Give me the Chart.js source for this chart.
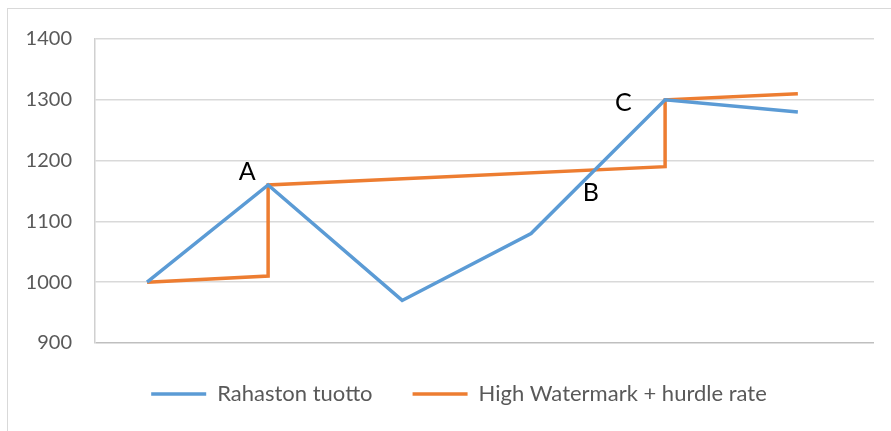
<!DOCTYPE html>
<html>
<head>
<meta charset="utf-8">
<script src="https://cdn.jsdelivr.net/npm/chart.js@4"></script>
<style>
  html, body { margin: 0; padding: 0; background: #fff; }
  #wrap { position: relative; width: 891px; height: 431px; }
  #frame { position: absolute; left: 7px; top: 8px; right: 0; bottom: 0;
           border-top: 1px solid #D9D9D9; border-left: 1px solid #D9D9D9; }
  #chart { position: absolute; left: 0; top: 0; }
</style>
</head>
<body>
<div id="wrap">
  <div id="frame"></div>
  <canvas id="chart" width="891" height="431"></canvas>
</div>
<script>
// Rahaston tuotto (x = aikapiste, y = arvo)
const fundX = [1, 1.93, 2.96, 3.95, 4.98, 6];
const fundY = [1000, 1160, 970, 1080, 1300, 1280];

// High Watermark + hurdle rate (pystysuorat hypyt A:ssa ja C:ssä)
const hwmX = [1, 1.93, 1.93, 4.98, 4.98, 6];
const hwmY = [1000, 1010, 1160, 1190, 1300, 1310];

const seriesNames = ['Rahaston tuotto', 'High Watermark + hurdle rate'];
const yTicks = [900, 1000, 1100, 1200, 1300, 1400];

// Merkinnät A, B, C datakoordinaateissa
const noteText = ['A', 'B', 'C'];
const noteX = [1.77, 4.41, 4.66];
const noteY = [1181, 1147, 1295];

const FONT = 'Lato, "Open Sans", sans-serif';

function toPoints(xs, ys) {
  return xs.map((x, i) => ({ x: x, y: ys[i] }));
}

// Piirtää kirjaimet A, B, C kaavioon
const notesPlugin = {
  id: 'notes',
  afterLayout(chart) {
    // selite hieman oikealle, kuten alkuperäisessä
    chart.legend.left += 22;
    chart.legend.right += 22;
  },
  afterDatasetsDraw(chart) {
    const ctx = chart.ctx;
    const xs = chart.scales.x, ys = chart.scales.y;
    ctx.save();
    ctx.fillStyle = '#000';
    ctx.font = '25px ' + FONT;
    ctx.textAlign = 'center';
    ctx.textBaseline = 'middle';
    noteText.forEach((t, i) => {
      ctx.fillText(t, xs.getPixelForValue(noteX[i]), ys.getPixelForValue(noteY[i]));
    });
    ctx.restore();
  }
};

new Chart(document.getElementById('chart'), {
  type: 'line',
  data: {
    datasets: [
      {
        label: seriesNames[0],
        data: toPoints(fundX, fundY),
        borderColor: '#5B9BD5',
        backgroundColor: '#5B9BD5',
        borderWidth: 3.5,
        pointRadius: 0,
        tension: 0
      },
      {
        label: seriesNames[1],
        data: toPoints(hwmX, hwmY),
        borderColor: '#ED7D31',
        backgroundColor: '#ED7D31',
        borderWidth: 3.5,
        pointRadius: 0,
        tension: 0
      }
    ]
  },
  options: {
    responsive: false,
    animation: false,
    layout: { padding: { left: 0, top: 39, right: 17, bottom: 16 } },
    plugins: {
      tooltip: { enabled: false },
      legend: {
        position: 'bottom',
        labels: {
          usePointStyle: true,
          pointStyle: 'line',
          pointStyleWidth: 55,
          padding: 40,
          color: '#595959',
          font: { family: FONT, size: 22 }
        }
      }
    },
    scales: {
      x: {
        type: 'linear',
        min: 0.6,
        max: 6.585,
        display: false
      },
      y: {
        min: 900,
        max: 1400,
        afterFit(scale) { scale.width = 95; },
        afterBuildTicks(scale) { scale.ticks = yTicks.map(v => ({ value: v })); },
        ticks: {
          padding: 23,
          color: '#595959',
          font: { family: FONT, size: 20 },
          callback: v => String(v)
        },
        grid: {
          drawTicks: false,
          color: ctx => ctx.tick && ctx.tick.value === 900 ? '#BFBFBF' : '#D9D9D9',
          lineWidth: 1.5
        },
        border: { display: true, color: '#D0D0D0', width: 1.5 }
      }
    }
  },
  plugins: [notesPlugin]
});
</script>
</body>
</html>
